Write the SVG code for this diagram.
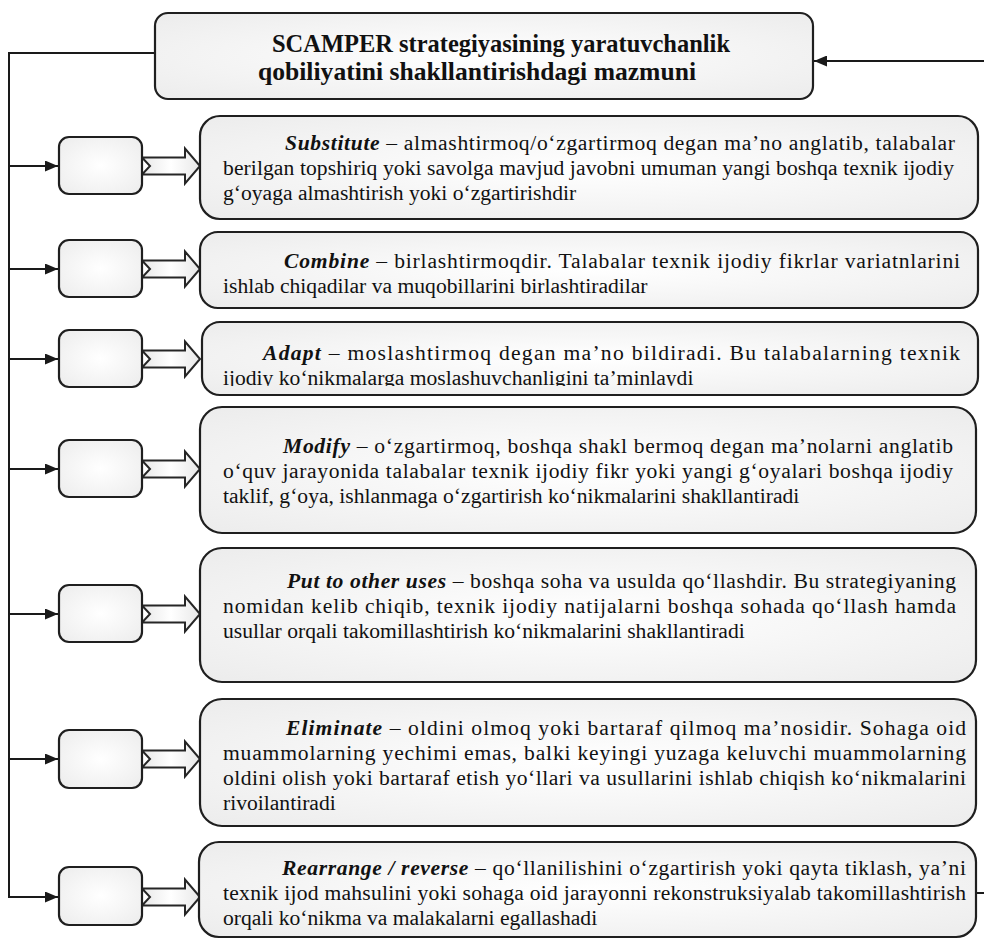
<svg xmlns="http://www.w3.org/2000/svg" width="984" height="942" viewBox="0 0 984 942">
<defs>
<radialGradient id="gBox" cx="50%" cy="50%" r="70%">
<stop offset="0" stop-color="#ffffff"/>
<stop offset="1" stop-color="#ececec"/>
</radialGradient>
<linearGradient id="gArr" x1="0" y1="0" x2="1" y2="0">
<stop offset="0" stop-color="#e8e8e8"/>
<stop offset="0.5" stop-color="#ffffff"/>
<stop offset="1" stop-color="#e8e8e8"/>
</linearGradient>
<marker id="ah" markerUnits="userSpaceOnUse" markerWidth="13" markerHeight="11" refX="13" refY="5.5" orient="auto">
<path d="M0,0 L13,5.5 L0,11 z" fill="#1a1a1a"/>
</marker>
<clipPath id="clipAdapt"><rect x="200" y="320" width="780" height="66"/></clipPath>
<style>
.box{fill:url(#gBox);stroke:#1f1f1f;stroke-width:2.2}
.sbox{fill:url(#gBox);stroke:#1f1f1f;stroke-width:2.2}
.barr{fill:url(#gArr);stroke:#262626;stroke-width:2}
.con{fill:none;stroke:#1a1a1a;stroke-width:2}
.t{font-size:21.6px;fill:#111}
.b{font-weight:bold;font-style:italic}
.title{font-size:25px;font-weight:bold;fill:#111}
</style>
</defs>

<g id="connectors">
<path class="con" d="M155,53 H9 V897 H58" marker-end="url(#ah)"/>
<path class="con" d="M9,166 H58" marker-end="url(#ah)"/>
<path class="con" d="M9,269 H58" marker-end="url(#ah)"/>
<path class="con" d="M9,359 H58" marker-end="url(#ah)"/>
<path class="con" d="M9,469 H58" marker-end="url(#ah)"/>
<path class="con" d="M9,614 H58" marker-end="url(#ah)"/>
<path class="con" d="M9,759 H58" marker-end="url(#ah)"/>
<path class="con" d="M976,893 H995 V61 H814" marker-end="url(#ah)"/>
</g>

<g font-family="'Liberation Serif', 'Times New Roman', 'DejaVu Serif', serif">
<g id="title">
<rect class="box" x="155" y="13" width="658" height="86" rx="13"/>
<text class="title" x="272" y="52" textLength="458" lengthAdjust="spacingAndGlyphs">SCAMPER strategiyasining yaratuvchanlik</text>
<text class="title" x="258" y="80" textLength="438" lengthAdjust="spacingAndGlyphs">qobiliyatini shakllantirishdagi mazmuni</text>
</g>

<g id="arrows">
<path class="barr" d="M142,157.5 H185 V148.5 L200,166 L185,183.5 V174.5 H142 L150,166 Z"/>
<path class="barr" d="M142,260.5 H185 V251.5 L200,269 L185,286.5 V277.5 H142 L150,269 Z"/>
<path class="barr" d="M142,350.5 H185 V341.5 L200,359 L185,376.5 V367.5 H142 L150,359 Z"/>
<path class="barr" d="M142,460.5 H185 V451.5 L200,469 L185,486.5 V477.5 H142 L150,469 Z"/>
<path class="barr" d="M142,605.5 H185 V596.5 L200,614 L185,631.5 V622.5 H142 L150,614 Z"/>
<path class="barr" d="M142,750.5 H185 V741.5 L200,759 L185,776.5 V767.5 H142 L150,759 Z"/>
<path class="barr" d="M142,888.5 H185 V879.5 L200,897 L185,914.5 V905.5 H142 L150,897 Z"/>
</g>

<g id="s1"><rect class="sbox" x="59" y="137" width="83" height="57" rx="10"/></g>
<g id="s2"><rect class="sbox" x="59" y="240" width="83" height="57" rx="10"/></g>
<g id="s3"><rect class="sbox" x="59" y="330" width="83" height="57" rx="10"/></g>
<g id="s4"><rect class="sbox" x="59" y="440" width="83" height="57" rx="10"/></g>
<g id="s5"><rect class="sbox" x="59" y="585" width="83" height="57" rx="10"/></g>
<g id="s6"><rect class="sbox" x="59" y="730" width="83" height="58" rx="10"/></g>
<g id="s7"><rect class="sbox" x="59" y="867" width="83" height="58" rx="10"/></g>

<g id="substitute">
<rect class="box" x="200" y="116" width="778" height="103" rx="20"/>
<text class="t" x="285" y="150" textLength="670" lengthAdjust="spacing"><tspan class="b">Substitute</tspan> – almashtirmoq/o‘zgartirmoq degan ma’no anglatib, talabalar</text>
<text class="t" x="223" y="175" textLength="731" lengthAdjust="spacing">berilgan topshiriq yoki savolga mavjud javobni umuman yangi boshqa texnik ijodiy</text>
<text class="t" x="223" y="200">g‘oyaga almashtirish yoki o‘zgartirishdir</text>
</g>

<g id="combine">
<rect class="box" x="200" y="232" width="778" height="76" rx="18"/>
<text class="t" x="284" y="268" textLength="676" lengthAdjust="spacing"><tspan class="b">Combine</tspan> – birlashtirmoqdir. Talabalar texnik ijodiy fikrlar variatnlarini</text>
<text class="t" x="223" y="293">ishlab chiqadilar va muqobillarini birlashtiradilar</text>
</g>

<g id="adapt">
<rect class="box" x="202" y="322" width="776" height="73" rx="18"/>
<text class="t" x="263" y="360" textLength="697" lengthAdjust="spacing"><tspan class="b">Adapt</tspan> – moslashtirmoq degan ma’no bildiradi. Bu talabalarning texnik</text>
<text class="t" x="223" y="385" clip-path="url(#clipAdapt)">ijodiy ko‘nikmalarga moslashuvchanligini ta’minlaydi</text>
</g>

<g id="modify">
<rect class="box" x="200" y="407" width="776" height="126" rx="22"/>
<text class="t" x="283" y="453" textLength="670" lengthAdjust="spacing"><tspan class="b">Modify</tspan> – o‘zgartirmoq, boshqa shakl bermoq degan ma’nolarni anglatib</text>
<text class="t" x="223" y="478" textLength="730" lengthAdjust="spacing">o‘quv jarayonida talabalar texnik ijodiy fikr yoki yangi g‘oyalari boshqa ijodiy</text>
<text class="t" x="223" y="503">taklif, g‘oya, ishlanmaga o‘zgartirish ko‘nikmalarini shakllantiradi</text>
</g>

<g id="put">
<rect class="box" x="200" y="548" width="776" height="134" rx="22"/>
<text class="t" x="287" y="588" textLength="669" lengthAdjust="spacing"><tspan class="b">Put to other uses</tspan> – boshqa soha va usulda qo‘llashdir. Bu strategiyaning</text>
<text class="t" x="223" y="613" textLength="733" lengthAdjust="spacing">nomidan kelib chiqib,  texnik ijodiy natijalarni boshqa sohada qo‘llash hamda</text>
<text class="t" x="223" y="638">usullar orqali takomillashtirish ko‘nikmalarini shakllantiradi</text>
</g>

<g id="eliminate">
<rect class="box" x="200" y="699" width="776" height="127" rx="22"/>
<text class="t" x="286" y="735" textLength="680" lengthAdjust="spacing"><tspan class="b">Eliminate</tspan> – oldini olmoq yoki bartaraf qilmoq ma’nosidir. Sohaga oid</text>
<text class="t" x="223" y="760" textLength="743" lengthAdjust="spacing">muammolarning yechimi emas, balki keyingi yuzaga keluvchi muammolarning</text>
<text class="t" x="223" y="785" textLength="743" lengthAdjust="spacing">oldini olish yoki bartaraf etish yo‘llari va usullarini ishlab chiqish ko‘nikmalarini</text>
<text class="t" x="223" y="810">rivoilantiradi</text>
</g>

<g id="rearrange">
<rect class="box" x="199" y="842" width="777" height="95" rx="20"/>
<text class="t" x="282" y="875" textLength="684" lengthAdjust="spacing"><tspan class="b">Rearrange / reverse</tspan> – qo‘llanilishini o‘zgartirish yoki qayta tiklash, ya’ni</text>
<text class="t" x="223" y="900" textLength="743" lengthAdjust="spacing">texnik ijod mahsulini yoki sohaga oid jarayonni rekonstruksiyalab takomillashtirish</text>
<text class="t" x="223" y="925">orqali ko‘nikma va malakalarni egallashadi</text>
</g>
</g>
</svg>
